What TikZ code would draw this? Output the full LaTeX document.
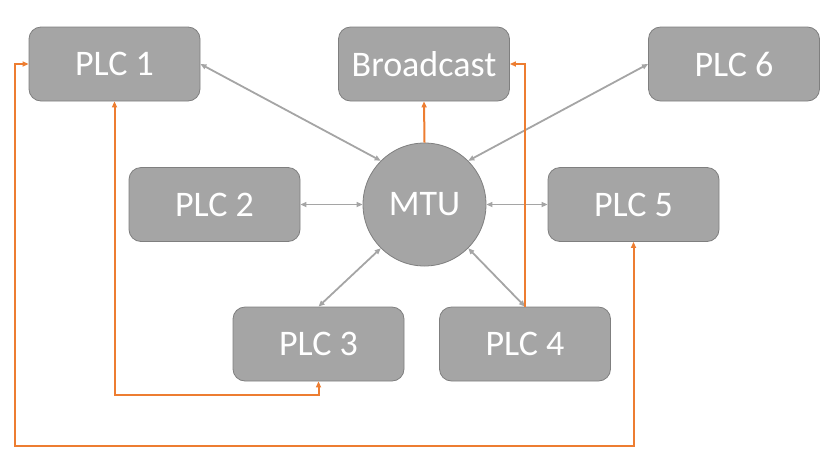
\documentclass[tikz,border=0pt]{standalone}
\usepackage{fontspec}
\setmainfont{Carlito}
\usepackage{tikz}
\usetikzlibrary{positioning,arrows.meta}
\definecolor{boxgrey}{HTML}{A5A5A5}
\definecolor{edgegrey}{HTML}{7F7F7F}
\definecolor{linkgrey}{HTML}{A5A5A5}
\definecolor{bus}{HTML}{ED7D31}
\tikzset{
  plc/.style={draw=edgegrey,fill=boxgrey,rounded corners=12pt,line width=.8pt,
    minimum width=171pt,minimum height=74pt,text=white,inner sep=0pt},
  hub/.style={draw=edgegrey,fill=boxgrey,circle,line width=.8pt,
    minimum size=123pt,text=white,inner sep=0pt},
  link/.style={linkgrey,line width=1.8pt,<->},
  wire/.style={bus,line width=2pt}
}
\begin{document}
\begin{tikzpicture}[x=1pt,y=-1pt,font=\fontsize{36}{42}\selectfont,
    >={Triangle[length=6pt,width=5pt]}]
    \useasboundingbox (0,0) rectangle (830,467);
    % boxes
    \node[plc] (plcone) at (114.5,64){PLC 1}; \node[plc] (bcast) at (424,64){Broadcast};
    \node[plc] (plcsix) at (734,64){PLC 6};
    \node[plc] (plctwo) at (214.5,204.5){PLC 2}; \node[hub] (mtu) at (424.5,204.5){MTU};
    \node[plc] (plcfive) at (633.5,204.5){PLC 5};
    \node[plc] (plcthree) at (318.5,344){PLC 3}; \node[plc] (plcfour) at (525,344){PLC 4};
    % grey links to the MTU
    \draw[link](plcone.east)--(mtu.135); \draw[link](plcsix.west)--(mtu.45);
    \draw[link](plctwo.east)--(mtu.west); \draw[link](plcfive.west)--(mtu.east);
    \draw[link](plcthree.north)--(mtu.225); \draw[link](plcfour.north)--(mtu.315);
    % orange wiring
    \coordinate (loopa) at (114.5,395); \coordinate (loopb) at (15,446);
    \draw[wire,->](mtu.north)--(bcast.south);
    \draw[wire,->](plcfour.north)|-(bcast.east);
    \draw[wire,<->](plcone.south)--(loopa)-|(plcthree.south);
    \draw[wire,<->](plcone.west)-|(loopb)-|(plcfive.south);
  \end{tikzpicture}
\end{document}
